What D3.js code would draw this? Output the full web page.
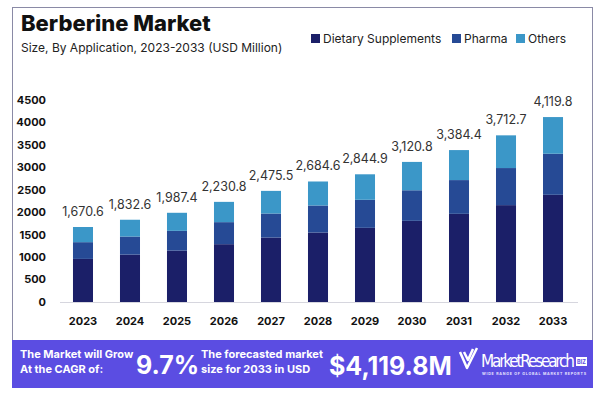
<!DOCTYPE html>
<html>
<head>
<meta charset="utf-8">
<script src="https://cdn.jsdelivr.net/npm/d3@7"></script>
<style>
  body { margin: 0; background: #fff; }
  svg { display: block; font-family: Inter, "Open Sans", sans-serif; }
</style>
</head>
<body>
<svg id="chart" width="600" height="398"></svg>
<script>
// data (USD Million)
var years = ["2023", "2024", "2025", "2026", "2027", "2028", "2029", "2030", "2031", "2032", "2033"];
var dietary = [960, 1056, 1145, 1288, 1435, 1547, 1652, 1808, 1964, 2158, 2388];
var pharma = [373, 402, 440, 491, 536, 603, 625, 681, 752, 826, 915];
var others = [337.6, 374.6, 402.4, 451.8, 504.5, 534.6, 567.9, 631.8, 668.4, 728.7, 816.8];
var totals = [1670.6, 1832.6, 1987.4, 2230.8, 2475.5, 2684.6, 2844.9, 3120.8, 3384.4, 3712.7, 4119.8];
var yTicks = [0, 500, 1000, 1500, 2000, 2500, 3000, 3500, 4000, 4500];
var seriesNames = ["Dietary Supplements", "Pharma", "Others"];
var colors = ["#1b1f68", "#264a95", "#3b97c8"];

var svg = d3.select("#chart");

// card frame
svg.append("rect")
    .attr("x", 12.5).attr("y", 7.5)
    .attr("width", 580).attr("height", 334)
    .attr("fill", "#fff")
    .attr("stroke", "#8a8aa6")
    .attr("stroke-width", 1);

svg.append("text")
    .attr("x", 21).attr("y", 31)
    .attr("font-size", 22).attr("font-weight", 800)
    .attr("fill", "#111")
    .text("Berberine Market");

svg.append("text")
    .attr("x", 21).attr("y", 52)
    .attr("font-size", 12)
    .attr("fill", "#222")
    .text("Size, By Application, 2023-2033 (USD Million)");

// legend
var legendX = [311, 452, 516];
var legend = svg.selectAll(".legend")
    .data(seriesNames)
    .enter().append("g")
    .attr("class", "legend")
    .attr("transform", function(d, i) { return "translate(" + legendX[i] + ",34)"; });

legend.append("rect")
    .attr("width", 9).attr("height", 9)
    .attr("fill", function(d, i) { return colors[i]; });

legend.append("text")
    .attr("x", 12).attr("y", 9)
    .attr("font-size", 12)
    .attr("fill", "#222")
    .text(function(d) { return d; });

// scales
var x = d3.scaleBand()
    .domain(years)
    .range([46, 590])
    .padding(0.574);

var y = d3.scaleLinear()
    .domain([0, 4500])
    .range([302, 100]);

var data = years.map(function(yr, i) {
    return { year: yr, dietary: dietary[i], pharma: pharma[i], others: others[i], total: totals[i] };
});

var stack = d3.stack().keys(["dietary", "pharma", "others"]);
var layers = stack(data);

svg.append("g").selectAll("g")
    .data(layers)
    .enter().append("g")
    .attr("fill", function(d, i) { return colors[i]; })
    .selectAll("rect")
    .data(function(d) { return d; })
    .enter().append("rect")
    .attr("x", function(d) { return x(d.data.year); })
    .attr("y", function(d) { return y(d[1]); })
    .attr("width", x.bandwidth())
    .attr("height", function(d) { return y(d[0]) - y(d[1]); });

// baseline
svg.append("line")
    .attr("x1", 60).attr("x2", 578)
    .attr("y1", y(0) + 0.5).attr("y2", y(0) + 0.5)
    .attr("stroke", "#d6d6de");

// y tick labels
svg.selectAll(".yLabel")
    .data(yTicks)
    .enter().append("text")
    .attr("class", "yLabel")
    .attr("x", 46)
    .attr("y", function(d) { return y(d); })
    .attr("dy", "0.35em")
    .attr("text-anchor", "end")
    .attr("font-size", 11).attr("font-weight", 700)
    .attr("fill", "#111")
    .text(function(d) { return d; });

// x labels
svg.selectAll(".xLabel")
    .data(years)
    .enter().append("text")
    .attr("class", "xLabel")
    .attr("x", function(d) { return x(d) + x.bandwidth() / 2; })
    .attr("y", 325)
    .attr("text-anchor", "middle")
    .attr("font-size", 11).attr("font-weight", 700)
    .attr("fill", "#111")
    .text(function(d) { return d; });

// totals above bars
var fmt = d3.format(",.1f");
svg.selectAll(".total")
    .data(data)
    .enter().append("text")
    .attr("class", "total")
    .attr("x", function(d) { return x(d.year) + x.bandwidth() / 2; })
    .attr("y", function(d) { return y(d.total) - 11; })
    .attr("text-anchor", "middle")
    .attr("font-size", 12.5)
    .attr("fill", "#333")
    .text(function(d) { return fmt(d.total); });

// bottom banner
var banner = svg.append("g");
banner.append("rect")
    .attr("x", 12).attr("y", 340)
    .attr("width", 581).attr("height", 48)
    .attr("fill", "#5b4de2");

banner.append("text")
    .attr("x", 20).attr("y", 358)
    .attr("font-size", 11).attr("font-weight", 700).attr("fill", "#fff")
    .text("The Market will Grow");
banner.append("text")
    .attr("x", 20).attr("y", 373)
    .attr("font-size", 11).attr("font-weight", 700).attr("fill", "#fff")
    .text("At the CAGR of:");

banner.append("text")
    .attr("x", 136).attr("y", 374)
    .attr("font-size", 25).attr("font-weight", 700).attr("fill", "#fff")
    .text("9.7%");

banner.append("text")
    .attr("x", 201).attr("y", 358)
    .attr("font-size", 11).attr("font-weight", 700).attr("fill", "#fff")
    .text("The forecasted market");
banner.append("text")
    .attr("x", 201).attr("y", 373)
    .attr("font-size", 11).attr("font-weight", 700).attr("fill", "#fff")
    .text("size for 2033 in USD");

banner.append("text")
    .attr("x", 329).attr("y", 375)
    .attr("font-size", 25).attr("font-weight", 700).attr("fill", "#fff")
    .text("$4,119.8M");

// logo
banner.append("path")
    .attr("d", "M460,352 L467,368 L477,348 M464,352 L468,360 L473,349")
    .attr("fill", "none")
    .attr("stroke", "#fff")
    .attr("stroke-width", 2.5)
    .attr("stroke-linejoin", "round");

banner.append("text")
    .attr("x", 481).attr("y", 367)
    .attr("font-family", "'Liberation Sans Narrow', 'DejaVu Sans Condensed', sans-serif")
    .attr("font-size", 17).attr("fill", "#fff")
    .attr("textLength", 94)
    .text("MarketResearch");

banner.append("rect")
    .attr("x", 576).attr("y", 357)
    .attr("width", 11).attr("height", 9)
    .attr("fill", "#fff");
banner.append("text")
    .attr("x", 581.5).attr("y", 364)
    .attr("text-anchor", "middle")
    .attr("font-size", 5.5).attr("font-weight", 700)
    .attr("fill", "#5b4de2")
    .text("BIZ");

banner.append("text")
    .attr("x", 482).attr("y", 375)
    .attr("font-size", 3.6).attr("font-weight", 700)
    .attr("fill", "#e8e6ff")
    .attr("textLength", 104)
    .text("WIDE RANGE OF GLOBAL MARKET REPORTS");
</script>
</body>
</html>
